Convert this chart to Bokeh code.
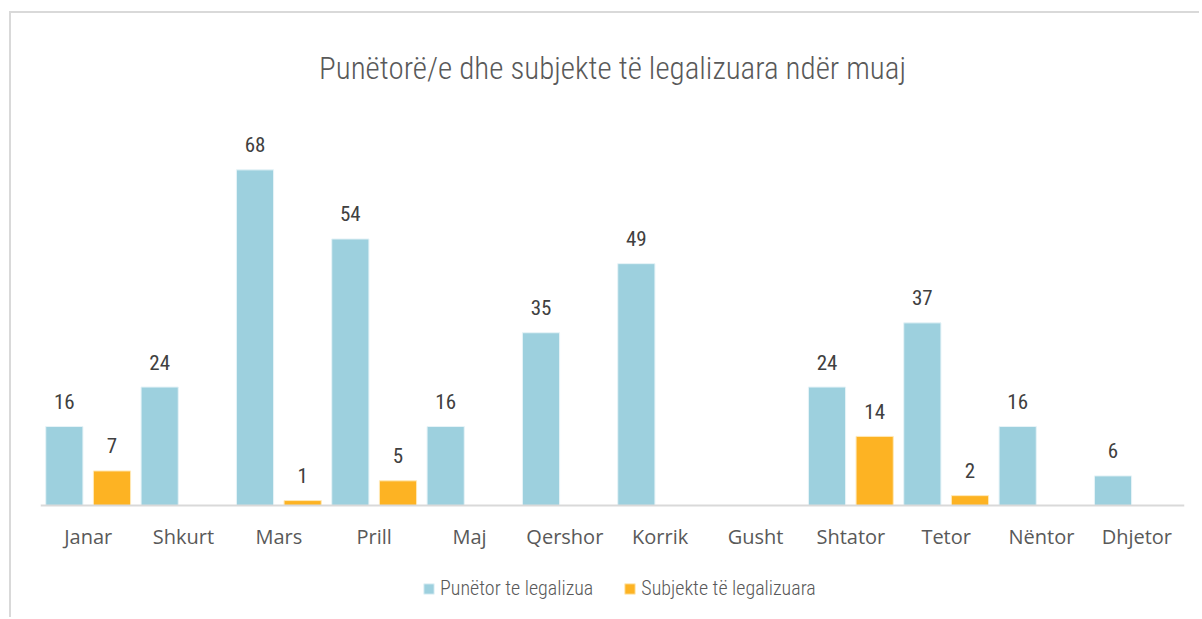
from bokeh.plotting import figure
from bokeh.models import ColumnDataSource, FactorRange, Range1d, Legend, LegendItem, Span
from bokeh.transform import dodge
from bokeh.embed import file_html
from bokeh.resources import INLINE
from bokeh.core.properties import value

months = ["Janar", "Shkurt", "Mars", "Prill", "Maj", "Qershor", "Korrik",
          "Gusht", "Shtator", "Tetor", "Nëntor", "Dhjetor"]
punetor = [16, 24, 68, 54, 16, 35, 49, None, 24, 37, 16, 6]
subjekte = [7, None, 1, 5, None, None, None, None, 14, 2, None, None]

series_names = ["Punëtor te legalizua", "Subjekte të legalizuara"]
colors = ["#9DD0DE", "#FDB323"]

LIGHT = "'Roboto Condensed Light', 'Roboto Condensed', 'Liberation Sans Narrow', Roboto, sans-serif"
COND = "'Roboto Condensed', 'Liberation Sans Narrow', Roboto, sans-serif"

nan = float("nan")
src = ColumnDataSource(dict(
    months=months,
    zero=[0] * len(months),
    punetor=[v if v is not None else nan for v in punetor],
    subjekte=[v if v is not None else nan for v in subjekte],
))

lab_p = ColumnDataSource(dict(
    months=[m for m, v in zip(months, punetor) if v],
    val=[v for v in punetor if v],
    txt=[str(v) for v in punetor if v],
))
lab_s = ColumnDataSource(dict(
    months=[m for m, v in zip(months, subjekte) if v],
    val=[v for v in subjekte if v],
    txt=[str(v) for v in subjekte if v],
))

# frame extends below the baseline so the legend can sit inside it
p = figure(x_range=FactorRange(*months), y_range=Range1d(-22.69, 78),
           frame_width=1144, frame_height=497,
           output_backend="svg", toolbar_location=None,
           title="Punëtorë/e dhe subjekte të legalizuara ndër muaj")
p.margin = (11, 0, 0, 9)
p.min_border_left = 29
p.min_border_right = 15
p.min_border_top = 107
p.min_border_bottom = 0
p.outline_line_color = None
p.xgrid.grid_line_color = None
p.ygrid.grid_line_color = None
p.yaxis.visible = False
p.xaxis.visible = False

p.title.align = "center"
p.title.text_font = LIGHT
p.title.text_font_size = "31px"
p.title.text_font_style = "normal"
p.title.text_color = "#595959"
p.title.standoff = 67

p.styles = {"border-top": "2px solid #d9d9d9", "border-left": "2px solid #d9d9d9"}

r1 = p.vbar(x=dodge("months", -0.25, range=p.x_range), top="punetor", width=0.39,
            source=src, fill_color=colors[0], line_color="#e6f3f7", line_width=1)
r2 = p.vbar(x=dodge("months", 0.25, range=p.x_range), top="subjekte", width=0.39,
            source=src, fill_color=colors[1], line_color="#ffe9b8", line_width=1)

# category baseline
p.add_layout(Span(location=0, dimension="width", line_color="#d9d9d9", line_width=2))

# category labels
p.text(x="months", y="zero", text="months", source=src,
       text_font=value("Open Sans"), text_font_size="20px", text_color="#595959",
       text_align="center", text_baseline="middle", y_offset=31)

for s, off in ((lab_p, -0.25), (lab_s, 0.25)):
    p.text(x=dodge("months", off, range=p.x_range), y="val", text="txt", source=s,
           text_font=value(COND), text_font_size="21px", text_color="#404040",
           text_align="center", text_baseline="middle", y_offset=-25)

legend = Legend(items=[LegendItem(label=series_names[0], renderers=[r1]),
                       LegendItem(label=series_names[1], renderers=[r2])],
                orientation="horizontal", location=(382, 17))
legend.border_line_color = None
legend.background_fill_alpha = 0
legend.glyph_width = 13
legend.glyph_height = 13
legend.label_standoff = 5
legend.spacing = 30
legend.label_text_font = LIGHT
legend.label_text_font_size = "20px"
legend.label_text_color = "#595959"
legend.margin = 0
legend.padding = 0
p.add_layout(legend, "center")

open("out.html", "w").write(file_html(p, INLINE))
